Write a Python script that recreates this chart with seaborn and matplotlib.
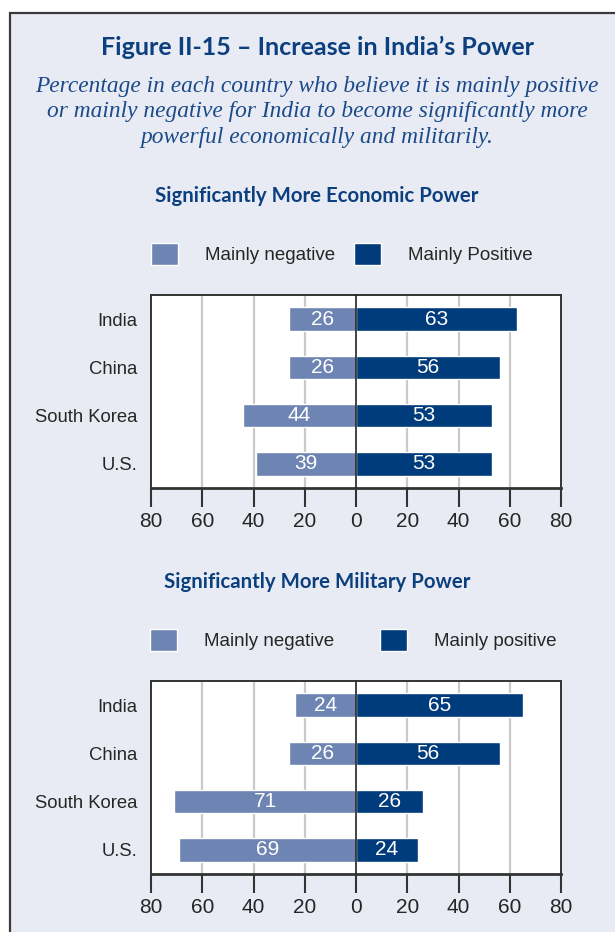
import matplotlib
matplotlib.use("Agg")
import matplotlib.pyplot as plt
from matplotlib.patches import Rectangle
import pandas as pd
import seaborn as sns

countries = ["India", "China", "South Korea", "U.S."]
econ_negative = [26, 26, 44, 39]
econ_positive = [63, 56, 53, 53]
mil_negative = [24, 26, 71, 69]
mil_positive = [65, 56, 26, 24]
econ_labels = ["Mainly negative", "Mainly Positive"]
mil_labels = ["Mainly negative", "Mainly positive"]
tick_values = [-80, -60, -40, -20, 0, 20, 40, 60, 80]
tick_labels = ["80", "60", "40", "20", "0", "20", "40", "60", "80"]

NEG_COLOR = "#6e85b3"
POS_COLOR = "#003b7b"
PANEL_BG = "#e8ebf3"
TITLE_COLOR = "#0c3f7e"
NARROW = ["Liberation Sans Narrow", "Liberation Sans", "DejaVu Sans"]

W, H = 615, 932
sns.set_style("white")
plt.rcParams["font.family"] = NARROW

fig = plt.figure(figsize=(W / 100, H / 100), dpi=100, facecolor="white")
fig.patches.append(Rectangle((10 / W, -0.02), 1.0, 1 - 13 / H + 0.02,
                             transform=fig.transFigure, facecolor=PANEL_BG,
                             edgecolor="#3a3a3a", linewidth=1.6, zorder=-5))

cx = 317 / W
fig.text(cx, 1 - 47 / H, "Figure II-15 \u2013 Increase in India\u2019s Power",
         ha="center", va="center", fontsize=18, fontweight="bold",
         color=TITLE_COLOR, family="Lato")
subtitle = ("Percentage in each country who believe it is mainly positive\n"
            "or mainly negative for India to become significantly more\n"
            "powerful economically and militarily.")
fig.text(cx, 1 - 112 / H, subtitle, ha="center", va="center", fontsize=16.8,
         style="italic", color="#1a4a8a", family="Liberation Serif",
         linespacing=1.3)


def draw_panel(top_px, title, negative, positive, labels, legend_x):
    df = pd.DataFrame({
        "country": countries * 2,
        "value": [-v for v in negative] + list(positive),
        "response": [labels[0]] * len(countries) + [labels[1]] * len(countries),
    })
    ax = fig.add_axes([151 / W, 1 - (top_px + 193) / H, 410 / W, 193 / H])
    ax.set_facecolor("white")
    sns.barplot(data=df, y="country", x="value", hue="response",
                hue_order=labels, order=countries, orient="h", dodge=False,
                palette=[NEG_COLOR, POS_COLOR], width=0.49, saturation=1,
                legend=False, ax=ax, zorder=3)
    ax.set_xlim(-80, 80)
    ax.set_ylim(3.5, -0.5)
    ax.set_xticks(tick_values)
    ax.set_xticklabels(tick_labels)
    for v in [-60, -40, -20, 20, 40, 60]:
        ax.axvline(v, color="#c9c9c9", lw=1.6, zorder=1)
    ax.axvline(0, color="#222222", lw=1.2, zorder=4)
    ax.set_xlabel("")
    ax.set_ylabel("")
    ax.tick_params(axis="x", length=14, width=1.5, color="#333333",
                   labelsize=15, pad=3, direction="out", bottom=True)
    ax.tick_params(axis="y", length=0, labelsize=13.3, pad=10)
    for s in ax.spines.values():
        s.set_color("#333333")
        s.set_linewidth(1.4)
    ax.spines["bottom"].set_linewidth(2)

    for cont, vals in zip(ax.containers, [negative, positive]):
        ax.bar_label(cont, labels=[str(v) for v in vals], label_type="center",
                     color="white", fontsize=15)

    fig.text(cx, 1 - (top_px - 99) / H, title, ha="center", va="center",
             fontsize=14.7, fontweight="bold", color=TITLE_COLOR, family="Lato")

    leg_y = 1 - (top_px - 41) / H
    for cont, lab, x in zip(ax.containers, labels, legend_x):
        fig.legend([cont], [lab], loc="center left",
                   bbox_to_anchor=(x / W, leg_y), frameon=False,
                   fontsize=13.5, handlelength=1.45, handleheight=1.45,
                   handletextpad=1.45, borderpad=0, borderaxespad=0)
    return ax


draw_panel(295, "Significantly More Economic Power", econ_negative,
           econ_positive, econ_labels, [151, 354])
draw_panel(681, "Significantly More Military Power", mil_negative,
           mil_positive, mil_labels, [150, 380])

fig.savefig("out.png", dpi=100, facecolor="white")
